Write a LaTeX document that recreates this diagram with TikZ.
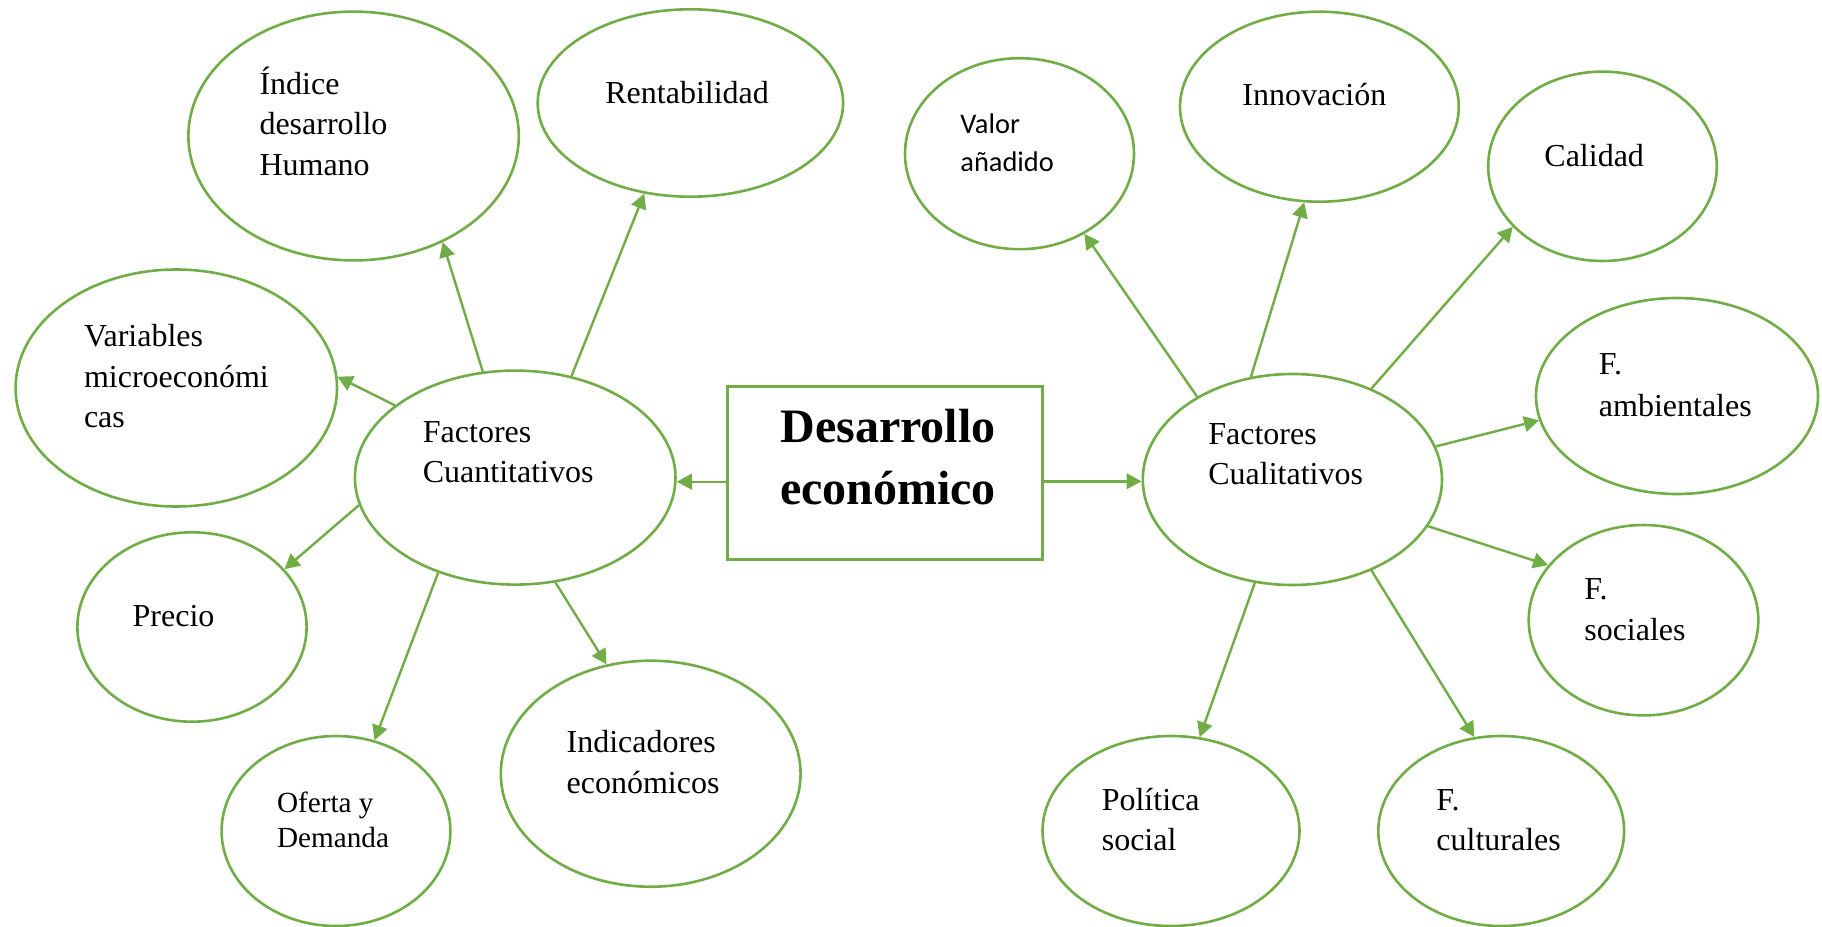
\documentclass[tikz,border=0pt]{standalone}
\usepackage{fontspec}
\setmainfont{Liberation Serif}
\newfontfamily\carlfont{Carlito}
\usetikzlibrary{shapes.geometric,arrows.meta}
\definecolor{gr}{RGB}{112,173,71}
\begin{document}
\begin{tikzpicture}[x=0.5pt,y=-0.5pt,
  ell/.style={draw=gr, line width=1.3pt, ellipse, inner sep=0pt},
  txt/.style={anchor=base west, align=left, inner sep=0pt, font=\fontsize{16}{20.2}\selectfont},
  arr/.style={draw=gr, line width=1.2pt, -{Triangle[length=7.5pt,width=7.8pt]}}]
\useasboundingbox (0,0) rectangle (1822,927);

% central box
\node[draw=gr, line width=1.5pt, minimum width=157.5pt, minimum height=86.65pt, inner sep=0pt] (box) at (885.2,473.3) {};
\node[anchor=base, align=center, inner sep=0pt, font=\bfseries\fontsize{24}{30.6}\selectfont] (title) at (888,504) {Desarrollo\\económico};

% left side ellipses
\node[ell, minimum width=165.2pt, minimum height=124.4pt] (indice) at (353.6,136) {};
\node[ell, minimum width=152.7pt, minimum height=93.7pt] (rent) at (690.4,103) {};
\node[ell, minimum width=160.7pt, minimum height=118.5pt] (vars) at (176.3,388) {};
\node[ell, minimum width=160.3pt, minimum height=107pt] (fcuant) at (515.2,477.6) {};
\node[ell, minimum width=114.6pt, minimum height=94.7pt] (precio) at (192,627) {};
\node[ell, minimum width=114.4pt, minimum height=95pt] (oferta) at (336,831) {};
\node[ell, minimum width=149.9pt, minimum height=113pt] (indic) at (650.7,773.7) {};

% right side ellipses
\node[ell, minimum width=114.5pt, minimum height=95.5pt] (valor) at (1019.5,153.7) {};
\node[ell, minimum width=139.4pt, minimum height=95pt] (innov) at (1319.4,106.7) {};
\node[ell, minimum width=114.3pt, minimum height=94.7pt] (calidad) at (1602.5,166.3) {};
\node[ell, minimum width=141pt, minimum height=98pt] (amb) at (1677,396) {};
\node[ell, minimum width=149.6pt, minimum height=105.5pt] (fcual) at (1292.4,479.5) {};
\node[ell, minimum width=114.8pt, minimum height=95.2pt] (soc) at (1643.5,620.2) {};
\node[ell, minimum width=128.5pt, minimum height=95pt] (pol) at (1171,831) {};
\node[ell, minimum width=122.9pt, minimum height=95pt] (cult) at (1501.2,831) {};

% texts (anchor = baseline of last line)
\node[txt] (tindice) at (259.1,175) {Índice\\desarrollo\\Humano};
\node[txt] (trent) at (605,103.3) {Rentabilidad};
\node[txt] (tvars) at (83.6,427.7) {Variables\\microeconómi\\cas};
\node[txt] (tfcuant) at (422.5,482.7) {Factores\\Cuantitativos};
\node[txt] (tprecio) at (132.3,626) {Precio};
\node[txt, font=\fontsize{14.6}{17.5}\selectfont] (toferta) at (276.7,847.3) {Oferta y\\Demanda};
\node[txt] (tindic) at (566.2,793.3) {Indicadores\\económicos};

\node[txt, font=\carlfont\fontsize{14.2}{18.9}\selectfont] (tvalor) at (960,171) {Valor\\añadido};
\node[txt] (tinnov) at (1242,105) {Innovación};
\node[txt] (tcalidad) at (1544,166) {Calidad};
\node[txt, font=\fontsize{16}{20.8}\selectfont] (tamb) at (1598.5,416) {F.\\ambientales};
\node[txt] (tfcual) at (1207.9,484.7) {Factores\\Cualitativos};
\node[txt, font=\fontsize{16}{20.6}\selectfont] (tsoc) at (1583.9,640.3) {F.\\sociales};
\node[txt] (tpol) at (1101.4,850.4) {Política\\social};
\node[txt] (tcult) at (1436,850.4) {F.\\culturales};

% connectors from box
\draw[arr] ([yshift=-4.2pt]box.west) -- ([yshift=-4.2pt]box.west -| fcuant.east);
\draw[arr] ([yshift=-4pt]box.east) -- ([yshift=-4pt]box.east -| fcual.west);

% left connectors
\draw[arr] (fcuant.107.1) -- (indice.310.4);
\draw[arr] (fcuant.61.4) -- (rent.243.5);
\draw[arr] (fcuant.149.7) -- (vars.4.6);
\draw[arr] (fcuant.190.4) -- (precio.32.7);
\draw[arr] (fcuant.231.4) -- (oferta.67.9);
\draw[arr] (fcuant.291.9) -- (indic.112.7);

% right connectors
\draw[arr] (fcual.139.3) -- (valor.309.8);
\draw[arr] (fcual.112.5) -- (innov.261.1);
\draw[arr] (fcual.49.2) -- (calidad.214.7);
\draw[arr] (fcual.13.4) -- (amb.190.2);
\draw[arr] (fcual.341.8) -- (soc.150.4);
\draw[arr] (fcual.250.3) -- (pol.73.3);
\draw[arr] (fcual.311.9) -- (cult.106.2);
\end{tikzpicture}
\end{document}
